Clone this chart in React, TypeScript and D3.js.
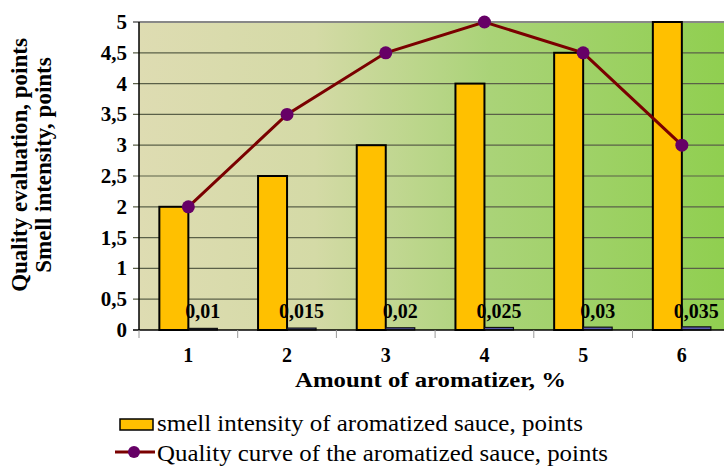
import { useEffect, useRef } from "react"
import * as d3 from "d3"

const categories = ["1", "2", "3", "4", "5", "6"]
const smellIntensity = [2, 2.5, 3, 4, 4.5, 5]
const aromatizerAmount = [0.01, 0.015, 0.02, 0.025, 0.03, 0.035]
const qualityCurve = [2, 3.5, 4.5, 5, 4.5, 3]
const yTicks = [0, 0.5, 1, 1.5, 2, 2.5, 3, 3.5, 4, 4.5, 5]

const fmt = (v: number) => String(v).replace(".", ",")

export default function App() {
  const svgRef = useRef<SVGSVGElement>(null)

  useEffect(() => {
    if (!svgRef.current) return
    d3.select(svgRef.current).selectAll("*").remove()

    const width = 724
    const height = 469
    const left = 139
    const top = 22
    const bottom = 330
    const bandW = 98.7

    const svg = d3
      .select(svgRef.current)
      .attr("width", width)
      .attr("height", height)
      .style("font-family", "Liberation Serif, Times New Roman, DejaVu Serif, serif")

    const x = d3
      .scaleBand()
      .domain(categories)
      .range([left, left + bandW * categories.length])
    const y = d3.scaleLinear().domain([0, 5]).range([bottom, top])

    // background gradient
    const grad = svg
      .append("defs")
      .append("linearGradient")
      .attr("id", "bg")
      .attr("x1", "0%")
      .attr("x2", "100%")
    grad.append("stop").attr("offset", "0%").attr("stop-color", "#dedcb2")
    grad.append("stop").attr("offset", "30%").attr("stop-color", "#d4daa6")
    grad.append("stop").attr("offset", "60%").attr("stop-color", "#aad378")
    grad.append("stop").attr("offset", "100%").attr("stop-color", "#90cf50")

    svg
      .append("rect")
      .attr("x", left)
      .attr("y", top)
      .attr("width", width - left)
      .attr("height", bottom - top)
      .attr("fill", "url(#bg)")

    // gridlines
    svg
      .selectAll(".grid")
      .data(yTicks.slice(1))
      .enter()
      .append("line")
      .attr("x1", left - 6)
      .attr("x2", width)
      .attr("y1", (d) => y(d))
      .attr("y2", (d) => y(d))
      .attr("stroke", (d) => (d === 5 ? "#888" : "#5a6048"))
      .attr("stroke-width", (d) => (d === 5 ? 2 : 1.2))

    // y tick labels
    svg
      .selectAll(".ytl")
      .data(yTicks)
      .enter()
      .append("text")
      .attr("x", 127)
      .attr("y", (d) => y(d) + 7)
      .attr("text-anchor", "end")
      .attr("font-weight", "bold")
      .attr("font-size", 21)
      .text((d) => fmt(d))

    const barW = 29
    const cx = (c: string) => (x(c) as number) + x.bandwidth() / 2

    // smell intensity bars
    svg
      .selectAll(".bar1")
      .data(smellIntensity)
      .enter()
      .append("rect")
      .attr("x", (_, i) => cx(categories[i]) - barW)
      .attr("y", (d) => y(d))
      .attr("width", barW)
      .attr("height", (d) => bottom - y(d))
      .attr("fill", "#ffc000")
      .attr("stroke", "#000")
      .attr("stroke-width", 2)

    // aromatizer amount bars
    svg
      .selectAll(".bar2")
      .data(aromatizerAmount)
      .enter()
      .append("rect")
      .attr("x", (_, i) => cx(categories[i]))
      .attr("y", (d) => y(d) - 1)
      .attr("width", barW)
      .attr("height", (d) => bottom - y(d) + 1)
      .attr("fill", "#5a5ab0")
      .attr("stroke", "#111")
      .attr("stroke-width", 1.2)

    svg
      .selectAll(".bar2l")
      .data(aromatizerAmount)
      .enter()
      .append("text")
      .attr("x", (_, i) => cx(categories[i]) + barW / 2)
      .attr("y", 318)
      .attr("text-anchor", "middle")
      .attr("font-weight", "bold")
      .attr("font-size", 20)
      .text((d) => fmt(d))

    // axes lines
    svg
      .append("line")
      .attr("x1", left)
      .attr("x2", left)
      .attr("y1", top)
      .attr("y2", bottom)
      .attr("stroke", "#000")
      .attr("stroke-width", 1.5)
    svg
      .append("line")
      .attr("x1", left - 6)
      .attr("x2", width)
      .attr("y1", bottom)
      .attr("y2", bottom)
      .attr("stroke", "#000")
      .attr("stroke-width", 1.5)

    // x ticks
    svg
      .selectAll(".xt")
      .data(categories)
      .enter()
      .append("line")
      .attr("x1", (d) => x(d) as number)
      .attr("x2", (d) => x(d) as number)
      .attr("y1", bottom)
      .attr("y2", bottom + 8)
      .attr("stroke", "#999")
      .attr("stroke-width", 1)

    svg
      .selectAll(".xtl")
      .data(categories)
      .enter()
      .append("text")
      .attr("x", (d) => cx(d))
      .attr("y", 362)
      .attr("text-anchor", "middle")
      .attr("font-weight", "bold")
      .attr("font-size", 20)
      .text((d) => d)

    // quality curve
    const line = d3
      .line<number>()
      .x((_, i) => cx(categories[i]))
      .y((d) => y(d))
    svg
      .append("path")
      .datum(qualityCurve)
      .attr("d", line)
      .attr("fill", "none")
      .attr("stroke", "#7a0000")
      .attr("stroke-width", 3)
    svg
      .selectAll(".pt")
      .data(qualityCurve)
      .enter()
      .append("circle")
      .attr("cx", (_, i) => cx(categories[i]))
      .attr("cy", (d) => y(d))
      .attr("r", 6.5)
      .attr("fill", "#660066")

    // axis titles
    svg
      .append("text")
      .attr("x", 295)
      .attr("y", 387)
      .attr("font-weight", "bold")
      .attr("font-size", 22)
      .attr("textLength", 271)
      .attr("lengthAdjust", "spacingAndGlyphs")
      .text("Amount of aromatizer, %")

    const yt = svg
      .append("text")
      .attr("transform", "translate(0,165) rotate(-90)")
      .attr("text-anchor", "middle")
      .attr("font-weight", "bold")
      .attr("font-size", 23)
    yt.append("tspan").attr("x", 0).attr("y", 27).text("Quality evaluation, points")
    yt.append("tspan").attr("x", 0).attr("y", 51).text("Smell intensity, points")

    // legend
    svg
      .append("rect")
      .attr("x", 120)
      .attr("y", 419)
      .attr("width", 33)
      .attr("height", 11)
      .attr("fill", "#ffc000")
      .attr("stroke", "#000")
      .attr("stroke-width", 1.5)
    svg
      .append("text")
      .attr("x", 157)
      .attr("y", 431)
      .attr("font-size", 24)
      .attr("textLength", 426)
      .attr("lengthAdjust", "spacingAndGlyphs")
      .text("smell intensity of aromatized sauce, points")
    svg
      .append("line")
      .attr("x1", 115)
      .attr("x2", 155)
      .attr("y1", 452)
      .attr("y2", 452)
      .attr("stroke", "#7a0000")
      .attr("stroke-width", 3)
    svg
      .append("circle")
      .attr("cx", 134)
      .attr("cy", 452)
      .attr("r", 6)
      .attr("fill", "#660066")
    svg
      .append("text")
      .attr("x", 157)
      .attr("y", 461)
      .attr("font-size", 24)
      .attr("textLength", 451)
      .attr("lengthAdjust", "spacingAndGlyphs")
      .text("Quality curve of the aromatized sauce, points")
  }, [])

  return (
    <svg
      ref={svgRef}
      style={{ position: "absolute", left: 0, top: 0, display: "block" }}
    ></svg>
  )
}
